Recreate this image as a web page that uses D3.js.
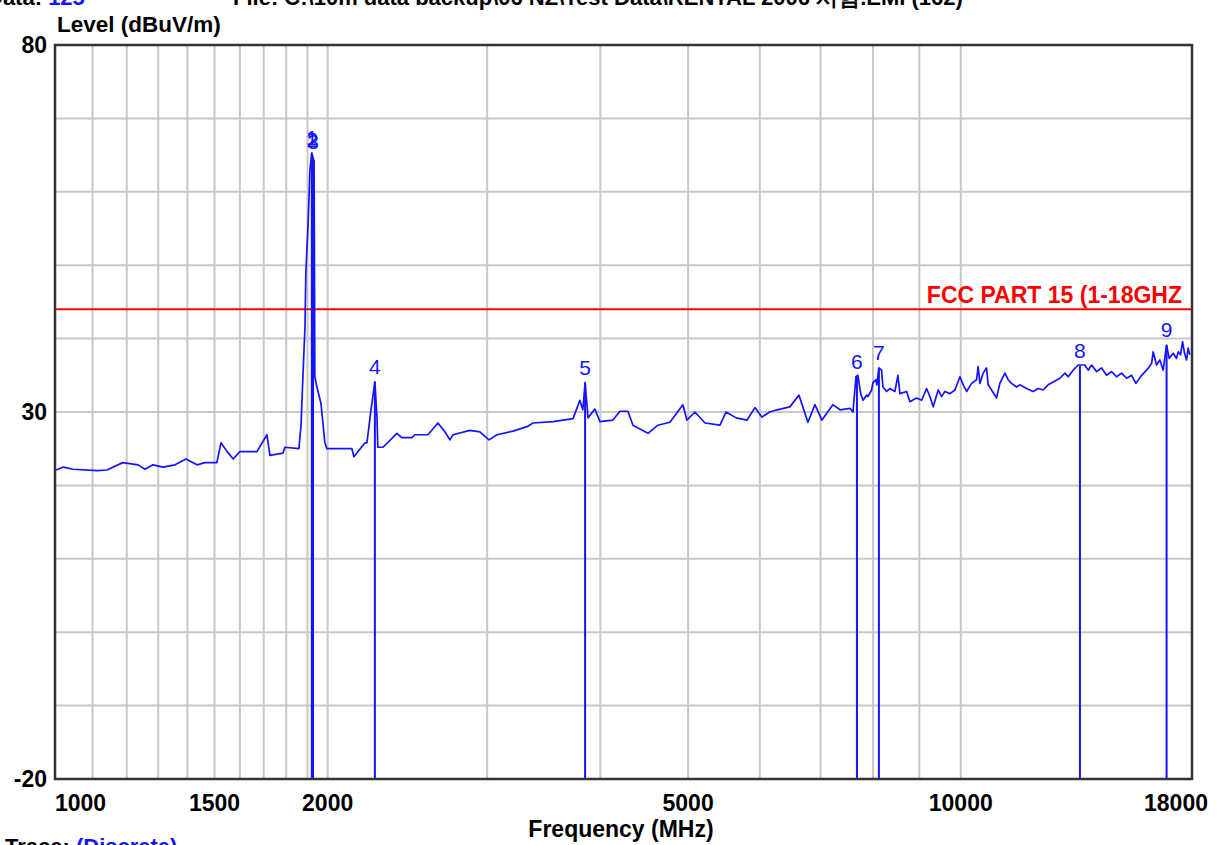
<!DOCTYPE html>
<html>
<head>
<meta charset="utf-8">
<script src="https://cdn.jsdelivr.net/npm/d3@7"></script>
<style>
  body { margin: 0; background: #fff; overflow: hidden }
  svg text { font-family: Arial, "Liberation Sans", sans-serif }
</style>
</head>
<body>
<svg id="chart" width="1221" height="845"></svg>
<script>
// trace (MHz, dBuV/m)
var traceFreq = [1003, 1021, 1047, 1113, 1141, 1188, 1235, 1257, 1283, 1316, 1357, 1395, 1435, 1464, 1509,
  1525, 1549, 1573, 1600, 1671, 1714, 1727, 1785, 1794, 1859, 1869, 1878, 1888, 1892, 1903, 1912, 1921,
  1924, 1927, 1930, 1932, 1936, 1946, 1966, 1986, 1996, 2127, 2138, 2199, 2210, 2233, 2255, 2267, 2272,
  2302, 2385, 2415, 2477, 2496, 2581, 2647, 2694, 2729, 2750, 2871, 2945, 3014, 3076, 3204, 3320, 3371,
  3546, 3732, 3797, 3826, 3848, 3877, 3945, 3996, 4130, 4204, 4290, 4346, 4515, 4631, 4774, 4934, 4985,
  5087, 5220, 5422, 5505, 5650, 5808, 5926, 6033, 6150, 6267, 6476, 6627, 6780, 6902, 7027, 7225,
  7355, 7545, 7603, 7661, 7700, 7753, 7799, 7872, 7898, 7971, 7998, 8059, 8080, 8121, 8177, 8204, 8281,
  8351, 8458, 8523, 8566, 8713, 8787, 8938, 9052, 9168, 9245, 9323, 9442, 9524, 9604, 9727, 9852, 9978,
  10062, 10149, 10279, 10410, 10452, 10498, 10586, 10677, 10721, 10814, 10952, 11044, 11186, 11280, 11377,
  11523, 11620, 11820, 12020, 12175, 12330, 12488, 12648, 12865, 13030, 13140, 13307, 13478, 13709, 13824,
  13944, 14122, 14303, 14486, 14672, 14860, 15050, 15243, 15438, 15608, 15836, 16037, 16242, 16308, 16450,
  16588, 16728, 16874, 16985, 17159, 17307, 17378, 17484, 17573, 17663, 17752, 17825, 17902]
var traceLevel = [22.1, 22.5, 22.2, 22.0, 22.1, 23.1, 22.8, 22.2, 22.8, 22.5, 22.8, 23.6, 22.8, 23.1, 23.1,
  25.8, 24.6, 23.6, 24.6, 24.6, 26.9, 24.1, 24.4, 25.2, 25.0, 28.2, 34.8, 41.6, 48.9, 55.7, 63.0, 65.3,
  58.0, 64.7, 53.4, 64.3, 34.8, 33.4, 31.2, 25.8, 25.0, 25.0, 23.9, 25.8, 25.8, 30.3, 34.1, 29.3, 25.2,
  25.2, 27.1, 26.5, 26.5, 26.9, 26.9, 28.5, 27.3, 26.2, 26.9, 27.5, 27.3, 26.2, 26.9, 27.4, 28.0, 28.5,
  28.7, 29.1, 31.6, 30.3, 34.0, 29.2, 30.4, 28.7, 28.9, 30.1, 30.1, 28.2, 27.1, 28.2, 28.6, 31.0, 28.9,
  30.0, 28.5, 28.2, 30.0, 29.2, 28.9, 30.6, 29.3, 30.0, 30.3, 30.7, 32.3, 28.6, 31.0, 28.9, 31.0,
  30.3, 30.5, 30.0, 34.8, 35.0, 32.5, 31.6, 32.3, 32.1, 33.0, 34.0, 34.4, 33.7, 36.0, 35.7, 33.4, 32.8,
  33.2, 32.8, 35.0, 32.5, 32.8, 31.4, 31.9, 31.6, 33.2, 32.1, 30.7, 33.0, 32.1, 32.8, 32.5, 33.0, 34.8,
  33.7, 32.8, 33.9, 34.4, 36.2, 33.9, 35.3, 36.0, 33.7, 33.0, 31.9, 33.9, 35.3, 34.4, 33.9,
  33.4, 33.7, 33.2, 32.8, 33.2, 33.0, 33.7, 34.1, 34.6, 35.3, 34.8, 35.7, 36.4, 36.4, 35.7,
  36.4, 35.5, 36.0, 35.0, 35.5, 34.8, 35.3, 34.6, 35.0, 33.9, 35.0, 35.7, 36.6, 38.2, 36.4,
  37.1, 35.7, 39.1, 37.3, 38.0, 37.3, 38.2, 37.8, 39.6, 38.0, 37.1, 38.7, 37.8]

var markerNames = ['1', '2', '3', '4', '5', '6', '7', '8', '9']
var markerFreq = [1921, 1924, 1927, 2255, 3848, 7680, 8121, 13538, 16874]
var markerLevel = [65.3, 65.0, 64.7, 34.1, 34.0, 34.8, 36.0, 36.3, 39.1]

var limitName = 'FCC PART 15 (1-18GHZ'
var limitLevel = 44

var gridFreq = [1100, 1200, 1300, 1400, 1500, 1600, 1700, 1800, 1900, 2000, 3000, 4000, 5000, 6000, 7000, 8000, 9000, 10000]
var gridLevel = [70, 60, 50, 40, 30, 20, 10, 0, -10]
var xTicks = [1000, 1500, 2000, 5000, 10000, 18000]
var yTicks = [80, 30, -20]

var blue = '#1414ff'
var svg = d3.select('#chart')
var plotL = 55, plotR = 1192, plotT = 45, plotB = 779

var x = d3.scaleLog().domain([1000, 18000]).range([plotL, plotR])
var y = d3.scaleLinear().domain([-20, 80]).range([plotB, plotT])

// clipped header line at the very top
var head = svg.append('text').attr('x', -13).attr('y', 5).attr('font-size', 22).attr('font-weight', 'bold')
head.append('tspan').text('Data: ')
head.append('tspan').attr('fill', blue).text('125')
svg.append('text').attr('x', 233).attr('y', 5).attr('font-size', 22).attr('font-weight', 'bold')
  .text('File: C:\\10m data backup\\06 NZ\\Test Data\\RENTAL 2006 시험.EMI   (162)')

svg.append('text').attr('x', 57).attr('y', 32).attr('font-size', 22.5).attr('font-weight', 'bold')
  .text('Level (dBuV/m)')

// grid
svg.selectAll('.vgrid').data(gridFreq).enter().append('line')
  .attr('x1', function(d){ return x(d) }).attr('x2', function(d){ return x(d) })
  .attr('y1', plotT).attr('y2', plotB)
  .attr('stroke', '#c8c8c8').attr('stroke-width', 2)
svg.selectAll('.hgrid').data(gridLevel).enter().append('line')
  .attr('x1', plotL).attr('x2', plotR)
  .attr('y1', function(d){ return y(d) }).attr('y2', function(d){ return y(d) })
  .attr('stroke', '#c8c8c8').attr('stroke-width', 2)

// limit line
svg.append('line')
  .attr('x1', plotL).attr('x2', plotR)
  .attr('y1', y(limitLevel)).attr('y2', y(limitLevel))
  .attr('stroke', '#ff0000').attr('stroke-width', 2)
svg.append('text').attr('x', 1182).attr('y', y(limitLevel) - 6)
  .attr('text-anchor', 'end').attr('font-size', 23).attr('font-weight', 'bold').attr('fill', '#ff0000')
  .text(limitName)

// marker lines
svg.selectAll('.marker').data(markerFreq).enter().append('line')
  .attr('x1', function(d){ return x(d) }).attr('x2', function(d){ return x(d) })
  .attr('y1', function(d, i){ return y(markerLevel[i]) }).attr('y2', plotB)
  .attr('stroke', blue).attr('stroke-width', 2)

// trace
var trace = traceFreq.map(function(f, i){ return [f, traceLevel[i]] })
svg.append('path').datum(trace)
  .attr('fill', 'none').attr('stroke', blue).attr('stroke-width', 1.7).attr('stroke-linejoin', 'round')
  .attr('d', d3.line().x(function(d){ return x(d[0]) }).y(function(d){ return y(d[1]) }))

svg.selectAll('.mlabel').data(markerFreq).enter().append('text')
  .attr('x', function(d){ return x(d) }).attr('y', function(d, i){ return y(markerLevel[i]) - 8 })
  .attr('text-anchor', 'middle').attr('font-size', 21).attr('fill', blue)
  .text(function(d, i){ return markerNames[i] })

// frame
svg.append('rect').attr('x', plotL).attr('y', plotT).attr('width', plotR - plotL).attr('height', plotB - plotT)
  .attr('fill', 'none').attr('stroke', '#333').attr('stroke-width', 2.5)

// axis labels
svg.selectAll('.xtick').data(xTicks).enter().append('text')
  .attr('x', function(d, i){ return i == 0 ? plotL : i == xTicks.length - 1 ? 1208 : x(d) })
  .attr('y', 811)
  .attr('text-anchor', function(d, i){ return i == 0 ? 'start' : i == xTicks.length - 1 ? 'end' : 'middle' })
  .attr('font-size', 23).attr('font-weight', 'bold')
  .text(function(d){ return d })
svg.selectAll('.ytick').data(yTicks).enter().append('text')
  .attr('x', 47).attr('y', function(d){ return y(d) + 8 })
  .attr('text-anchor', 'end').attr('font-size', 23).attr('font-weight', 'bold')
  .text(function(d){ return d })

svg.append('text').attr('x', 621).attr('y', 837).attr('text-anchor', 'middle')
  .attr('font-size', 23).attr('font-weight', 'bold').text('Frequency (MHz)')

var foot = svg.append('text').attr('x', 5).attr('y', 854).attr('font-size', 22).attr('font-weight', 'bold')
foot.append('tspan').text('Trace:  ')
foot.append('tspan').attr('fill', blue).text('(Discrete)')
</script>
</body>
</html>
